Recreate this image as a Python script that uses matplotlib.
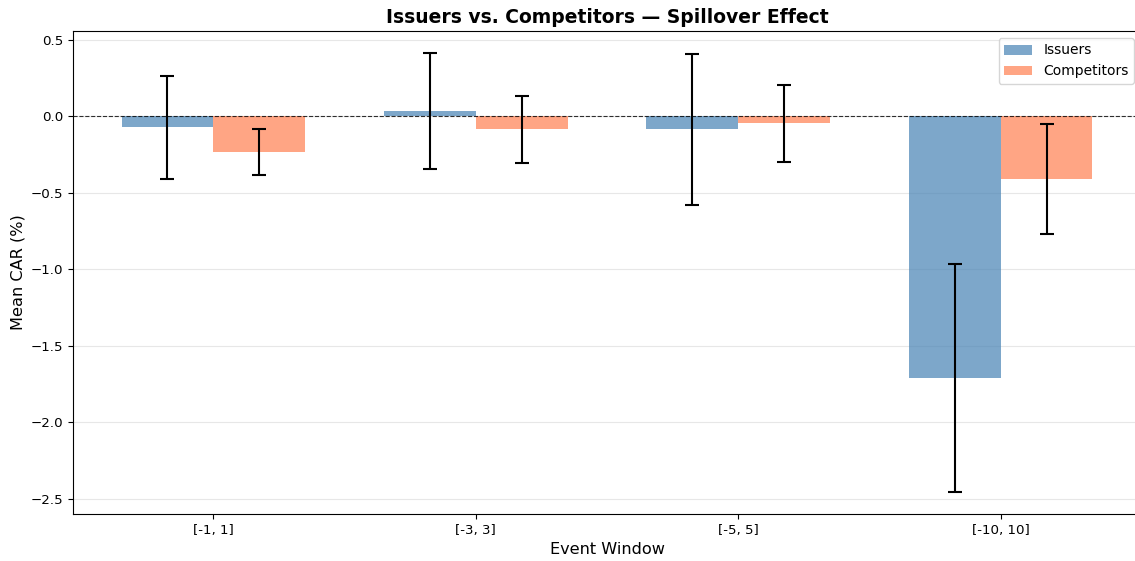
import numpy as np
import matplotlib
matplotlib.use("Agg")
import matplotlib.pyplot as plt

windows = ["[-1, 1]", "[-3, 3]", "[-5, 5]", "[-10, 10]"]
issuers_car = [-0.072, 0.035, -0.085, -1.71]
issuers_err = [0.335, 0.38, 0.495, 0.745]
competitors_car = [-0.23, -0.085, -0.045, -0.41]
competitors_err = [0.15, 0.22, 0.25, 0.36]

x = np.arange(len(windows))
width = 0.35
s = 0.965  # overall font scale

plt.rcParams["font.size"] = 10 * s

fig = plt.figure(figsize=(11.35, 5.61), dpi=100)
ax = fig.add_axes([73 / 1135, 47 / 561, 1068 / 1135, 483 / 561])

ax.bar(x - width / 2, issuers_car, width, yerr=issuers_err, capsize=5,
       color="steelblue", alpha=0.7, label="Issuers",
       error_kw={"elinewidth": 1.5, "capthick": 1.5, "ecolor": "black"})
ax.bar(x + width / 2, competitors_car, width, yerr=competitors_err, capsize=5,
       color="coral", alpha=0.7, label="Competitors",
       error_kw={"elinewidth": 1.5, "capthick": 1.5, "ecolor": "black"})

ax.axhline(0, color="black", linestyle="--", linewidth=0.8, alpha=0.8)
ax.set_xticks(x)
ax.set_xticklabels(windows)
ax.set_xlabel("Event Window", fontsize=12 * s, labelpad=4 * s)
ax.set_ylabel("Mean CAR (%)", fontsize=12 * s, labelpad=4 * s)
ax.set_title("Issuers vs. Competitors — Spillover Effect", fontsize=14 * s,
             fontweight="bold", pad=6 * s)
ax.legend(loc="upper right", fontsize=10)
ax.grid(axis="y", alpha=0.3)
ax.set_axisbelow(True)

fig.savefig("out.png", dpi=100)
